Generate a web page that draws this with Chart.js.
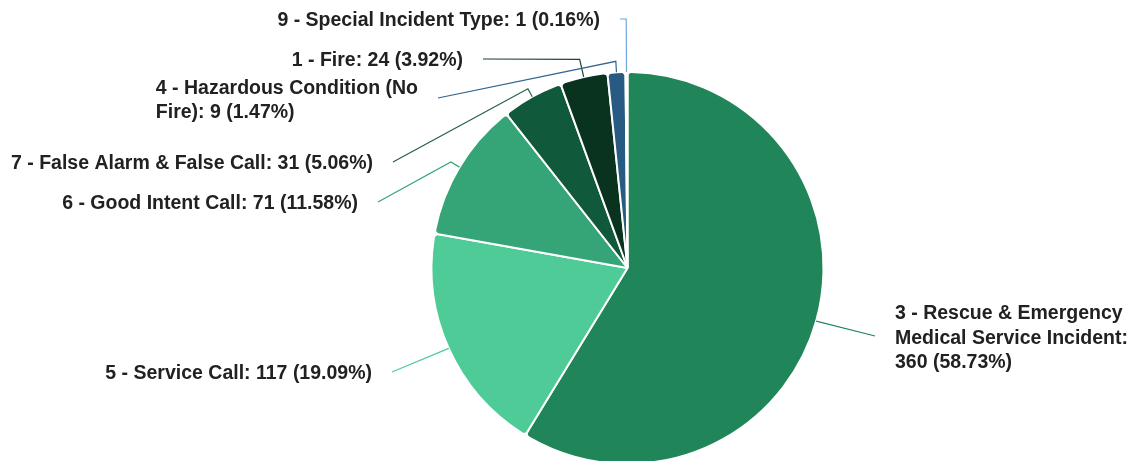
<!DOCTYPE html>
<html lang="en">
<head>
    <meta charset="UTF-8">
    <title>Incident Types</title>
    <script src="https://cdn.jsdelivr.net/npm/chart.js"></script>
    <style>
        html, body {
            margin: 0;
            padding: 0;
            background: #fff;
            overflow: hidden;
        }

        .chart-box {
            width: 1134px;
            height: 536px;
        }
    </style>
</head>
<body>
<div class="chart-box">
    <canvas id="incidentPie" width="1134" height="536"></canvas>
</div>

<script>
    // Incident counts by type, in drawing order (clockwise from 12 o'clock)
    const categories = [
        '3 - Rescue & Emergency Medical Service Incident',
        '5 - Service Call',
        '6 - Good Intent Call',
        '7 - False Alarm & False Call',
        '1 - Fire',
        '4 - Hazardous Condition (No Fire)',
        '9 - Special Incident Type'
    ];
    const counts = [360, 117, 71, 31, 24, 9, 1];

    const sliceColors = ['#21855a', '#4ecb96', '#35a476', '#10593a', '#09321f', '#275b83', '#6fa8dc'];
    const lineColors = ['#21855a', '#4ecb96', '#35a476', '#245f44', '#1d4533', '#2f6490', '#6fa8dc'];

    // Where each leader line ends, relative to the pie centre; ext = radial stub length
    const labelLayout = [
        {side: 'right', ext: 0, dx: 247.5, dy: 68, wrap: 238},
        {side: 'left', ext: 0, dx: -235.5, dy: 104},
        {side: 'left', ext: 10, dx: -249.5, dy: -66},
        {side: 'left', ext: 9, dx: -234.5, dy: -106},
        {side: 'left', ext: 18, dx: -144.5, dy: -209},
        {side: 'left', ext: 11, dx: -189.5, dy: -170, wrap: 270},
        {side: 'left', ext: 53, dx: -7.5, dy: -249}
    ];

    const FONT = 'bold 19.5px "Liberation Sans", Arial, sans-serif';
    const LINE_H = 24.5;
    const GAP = 20;
    const TEXT_SHIFT = 1.5;

    function wrapText(ctx, text, maxWidth) {
        if (!maxWidth) return [text];
        const words = text.split(' ');
        const lines = [];
        let cur = '';
        words.forEach(w => {
            const test = cur ? cur + ' ' + w : w;
            if (cur && ctx.measureText(test).width > maxWidth) {
                lines.push(cur);
                cur = w;
            } else {
                cur = test;
            }
        });
        if (cur) lines.push(cur);
        return lines;
    }

    // Leader lines + outside labels
    const outsideLabels = {
        id: 'outsideLabels',
        afterDatasetsDraw(chart) {
            const ctx = chart.ctx;
            const meta = chart.getDatasetMeta(0);
            const total = counts.reduce((a, b) => a + b, 0);
            ctx.save();
            ctx.font = FONT;
            meta.data.forEach((arc, i) => {
                const p = arc.getProps(['x', 'y', 'startAngle', 'endAngle', 'outerRadius'], true);
                const lay = labelLayout[i];
                const mid = (p.startAngle + p.endAngle) / 2;
                const ex = p.x + Math.cos(mid) * p.outerRadius;
                const ey = p.y + Math.sin(mid) * p.outerRadius;
                const bx = p.x + Math.cos(mid) * (p.outerRadius + lay.ext);
                const by = p.y + Math.sin(mid) * (p.outerRadius + lay.ext);
                const lx = p.x + lay.dx;
                const ly = p.y + lay.dy;

                ctx.beginPath();
                ctx.moveTo(lx, ly);
                ctx.lineTo(bx, by);
                ctx.lineTo(ex, ey);
                ctx.strokeStyle = lineColors[i];
                ctx.lineWidth = 1.2;
                ctx.stroke();

                const pct = (counts[i] / total * 100).toFixed(2);
                const text = `${categories[i]}: ${counts[i]} (${pct}%)`;
                const lines = wrapText(ctx, text, lay.wrap);
                const widest = Math.max(...lines.map(l => ctx.measureText(l).width));
                const tx = lay.side === 'left' ? lx - GAP - widest : lx + GAP;
                const top = ly - (lines.length - 1) * LINE_H / 2 + (lines.length > 1 ? 1 : 0) + TEXT_SHIFT;
                ctx.fillStyle = '#212121';
                ctx.textAlign = 'left';
                ctx.textBaseline = 'middle';
                lines.forEach((l, k) => ctx.fillText(l, tx, top + k * LINE_H));
            });
            ctx.restore();
        }
    };

    new Chart(document.getElementById('incidentPie'), {
        type: 'pie',
        data: {
            labels: categories,
            datasets: [{
                data: counts,
                backgroundColor: sliceColors,
                borderColor: '#ffffff',
                borderWidth: 2,
                borderRadius: 4,
                radius: 196
            }]
        },
        options: {
            responsive: false,
            animation: false,
            devicePixelRatio: 1,
            layout: {padding: {left: 121}},
            plugins: {
                legend: {display: false},
                tooltip: {enabled: false}
            }
        },
        plugins: [outsideLabels]
    });
</script>
</body>
</html>
